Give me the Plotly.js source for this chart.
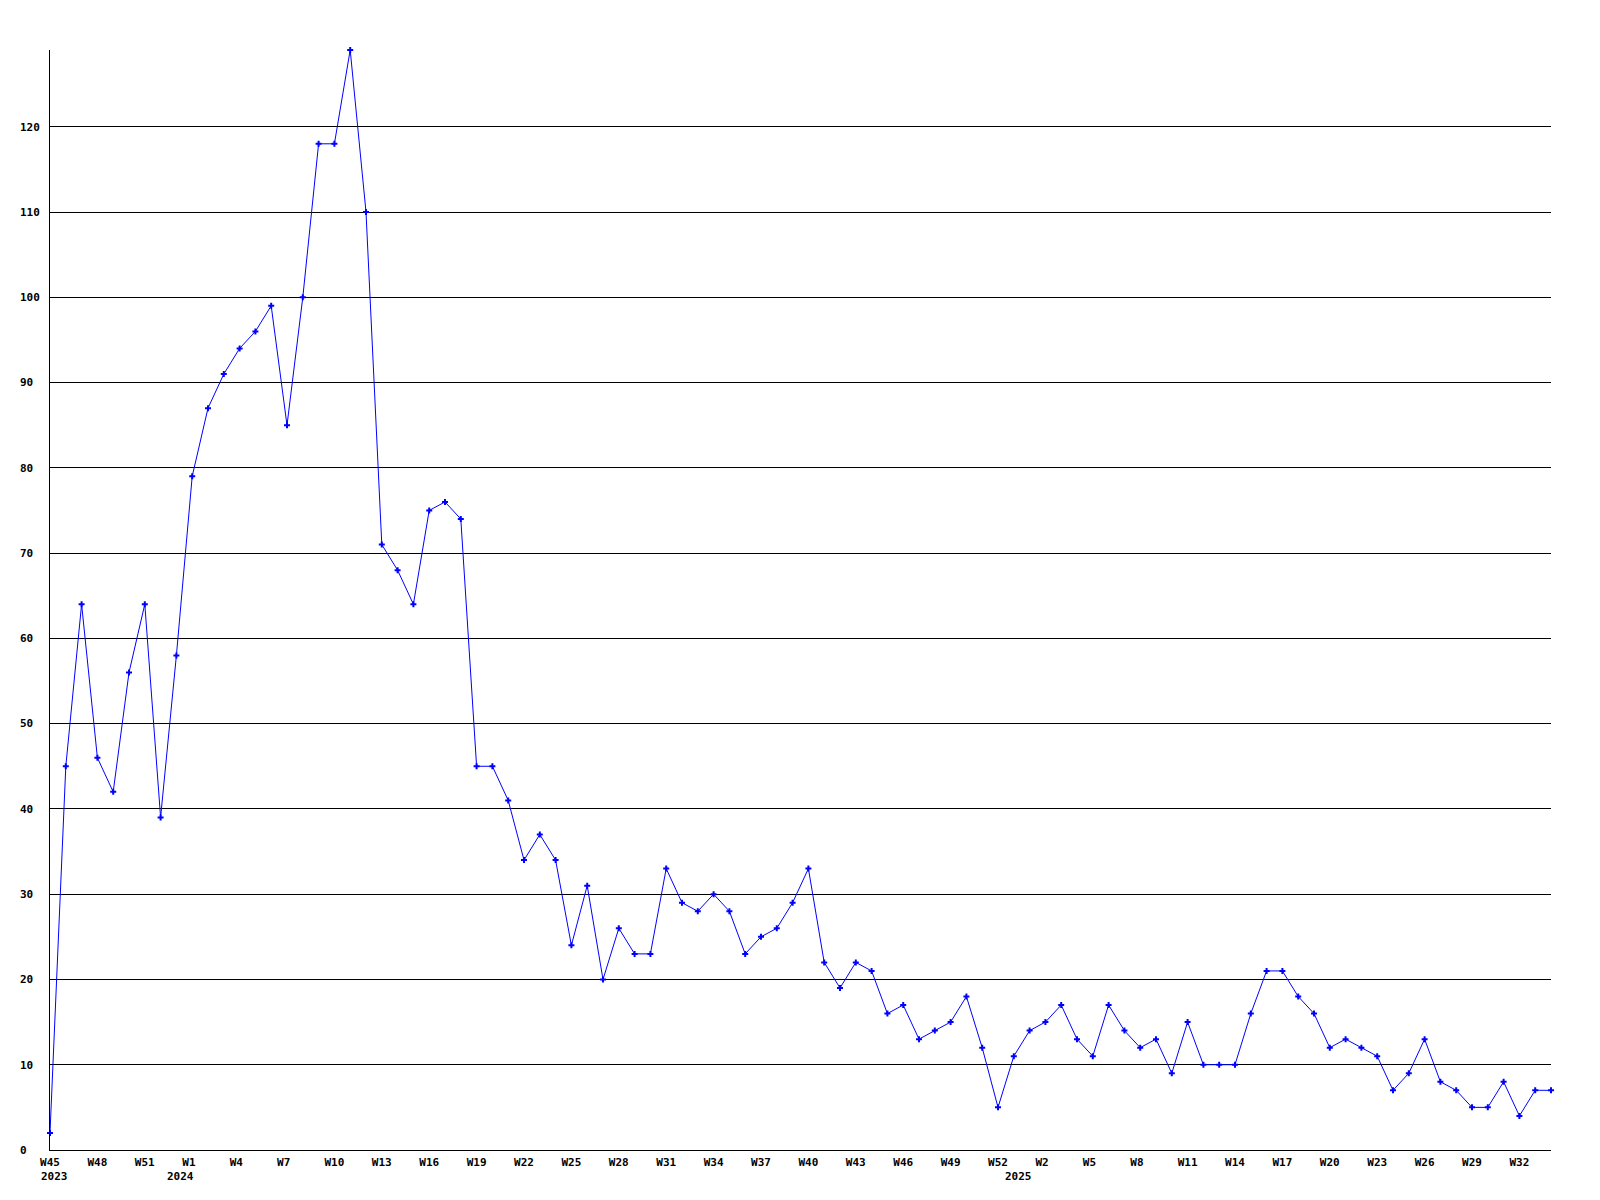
<!DOCTYPE html>
<html>
<head>
<meta charset="utf-8">
<script src="https://cdn.plot.ly/plotly-3.0.1.min.js"></script>
<style>
  html, body { margin: 0; padding: 0; background: #ffffff; }
  #chart { width: 1600px; height: 1200px; }
</style>
</head>
<body>
<div id="chart"></div>
<script>
// Week numbering as in the reference (Sunday-based weeks, week 0 = partial first week)
const years = [2023, 2024, 2025];
const firstWeek = [45, 0, 0];
const lastWeek = [52, 52, 34];

// Weekly counts
const counts2023 = [2, 45, 64, 46, 42, 56, 64, 39];
const counts2024 = [58, 79, 87, 91, 94, 96, 99, 85, 100, 118, 118, 129, 110, 71, 68, 64, 75, 76, 74,
                    45, 45, 41, 34, 37, 34, 24, 31, 20, 26, 23, 23, 33, 29, 28, 30, 28, 23, 25, 26,
                    29, 33, 22, 19, 22, 21, 16, 17, 13, 14, 15, 18, 12, 5];
const counts2025 = [11, 14, 15, 17, 13, 11, 17, 14, 12, 13, 9, 15, 10, 10, 10, 16, 21, 21, 18, 16,
                    12, 13, 12, 11, 7, 9, 13, 8, 7, 5, 5, 8, 4, 7, 7];

const yTicks = [0, 10, 20, 30, 40, 50, 60, 70, 80, 90, 100, 110, 120];
const tickEvery = 3;

// Build categories
const cats = [];
const weekNo = [];
const yearOf = [];
years.forEach((y, i) => {
  for (let w = firstWeek[i]; w <= lastWeek[i]; w++) {
    cats.push(y + '-W' + String(w).padStart(2, '0'));
    weekNo.push(w);
    yearOf.push(y);
  }
});
const counts = counts2023.concat(counts2024, counts2025);

const NB = '\u00a0';
const tickvals = [], ticktext = [];
for (let i = 0; i < cats.length; i += tickEvery) {
  tickvals.push(cats[i]);
  ticktext.push(('W' + weekNo[i]).padEnd(3, NB));
}

const font = {family: 'DejaVu Sans Mono', size: 11, weight: 'bold', color: '#000000'};

const annotations = years.map(y => ({
  x: cats[yearOf.indexOf(y)],
  xref: 'x',
  y: 0, yref: 'paper',
  yanchor: 'top', xanchor: 'left',
  xshift: -11, yshift: -18,
  text: String(y),
  showarrow: false,
  font: font
}));

const trace = {
  type: 'scatter',
  mode: 'lines+markers',
  x: cats,
  y: counts,
  cliponaxis: false,
  line: {color: '#0000ff', width: 1},
  marker: {symbol: 'cross', size: 5, color: '#0000ff'},
  hoverinfo: 'x+y'
};

const layout = {
  width: 1600, height: 1200,
  margin: {l: 50, r: 49, t: 50, b: 50},
  paper_bgcolor: '#ffffff',
  plot_bgcolor: '#ffffff',
  showlegend: false,
  font: font,
  xaxis: {
    type: 'category',
    categoryorder: 'array',
    categoryarray: cats,
    range: [0, cats.length - 1],
    showgrid: false,
    zeroline: false,
    showline: true, linecolor: '#000000', linewidth: 1,
    ticks: '',
    tickmode: 'array', tickvals: tickvals, ticktext: ticktext,
    tickangle: 0,
    tickfont: font,
    ticklabelstandoff: 2
  },
  yaxis: {
    range: [0, 129],
    showgrid: true, gridcolor: '#000000', gridwidth: 1,
    zeroline: false,
    showline: true, linecolor: '#000000', linewidth: 1,
    ticks: '',
    tickmode: 'array', tickvals: yTicks,
    ticktext: yTicks.map(v => String(v).padEnd(3, NB)),
    tickfont: font,
    ticklabelstandoff: 7
  },
  annotations: annotations
};

Plotly.newPlot('chart', [trace], layout, {displayModeBar: false, staticPlot: true});
</script>
</body>
</html>
